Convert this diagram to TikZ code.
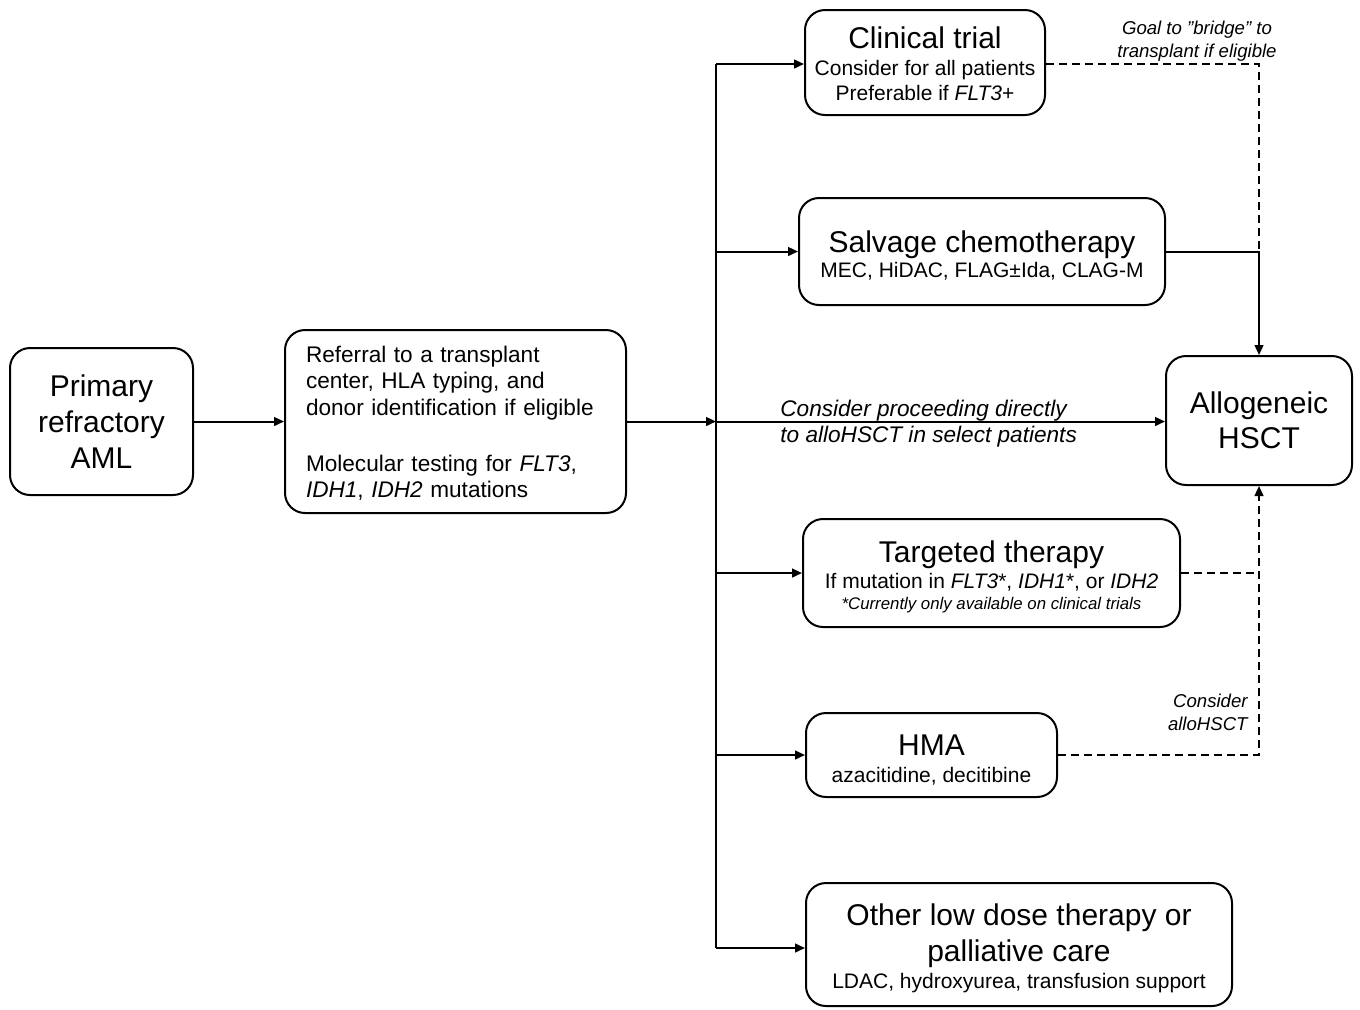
\documentclass[tikz,border=0pt]{standalone}
\usepackage{fontspec}
\setmainfont{Liberation Sans}
\usetikzlibrary{arrows.meta,calc}
\newcommand{\ftitle}{\fontsize{15}{18}\selectfont}
\newcommand{\fsub}{\fontsize{10.5}{12.5}\selectfont}
\newcommand{\ftiny}{\fontsize{8.4}{10}\selectfont\itshape}
\newcommand{\dstrut}[1]{\rule{0pt}{#1}}
\begin{document}
\begin{tikzpicture}[x=0.5pt,y=-0.5pt,
  box/.style={draw=black, line width=1pt, rounded corners=10pt, align=center, font=\ftitle, inner sep=0pt},
  arr/.style={line width=1pt, -{Triangle[length=5pt,width=4.4pt]}},
  ln/.style={line width=1pt},
  dsh/.style={line width=1pt, dash pattern=on 4pt off 2.5pt},
  dsharr/.style={dsh, -{Triangle[length=5pt,width=4.4pt]}},
  lbl/.style={font=\fontsize{11.3}{13}\selectfont\itshape, inner sep=0pt},
  slbl/.style={font=\fontsize{9.3}{11.5}\selectfont\itshape, inner sep=0pt}]
\useasboundingbox (0,0) rectangle (1360,1009);

\node[box, minimum width=91.5pt, minimum height=73.5pt] (A) at (101.5,421.5) {Primary\\refractory\\AML};
\node[box, minimum width=170.5pt, minimum height=91.5pt, text width=149.5pt, align=left, font=\fontsize{11.3}{13.25}\selectfont] (B) at (455.5,421.5) {\dstrut{9.7pt}Referral to a transplant\\center, HLA typing, and\\donor identification if eligible\\[14.75pt]Molecular testing for \textit{FLT3},\\\textit{IDH1}, \textit{IDH2} mutations};
\node[box, minimum width=120pt, minimum height=52.5pt] (C) at (925,62.5) {\dstrut{12pt}Clinical trial\\[-4.65pt]{\fsub Consider for all patients}\\[-5.5pt]{\fsub Preferable if \textit{FLT3}+}};
\node[box, minimum width=183pt, minimum height=53.5pt] (D) at (982,251.5) {\dstrut{15pt}Salvage chemotherapy\\[-5.65pt]{\fsub MEC, HiDAC, FLAG±Ida, CLAG-M}};
\node[box, minimum width=93pt, minimum height=64.5pt] (E) at (1259,420.5) {Allogeneic\\[-0.5pt]HSCT};
\node[box, minimum width=188.5pt, minimum height=54pt] (F) at (991.5,573) {\dstrut{15pt}Targeted therapy\\[-5.15pt]{\fsub If mutation in \textit{FLT3}*, \textit{IDH1}*, or \textit{IDH2}}\\[-7.2pt]{\ftiny *Currently only available on clinical trials}};
\node[box, minimum width=125.5pt, minimum height=42pt] (G) at (931.5,755) {\dstrut{15pt}HMA\\[-4.65pt]{\fsub azacitidine, decitibine}};
\node[box, minimum width=213pt, minimum height=61.5pt] (H) at (1019,944.5) {\dstrut{15pt}Other low dose therapy or\\palliative care\\[-4.65pt]{\fsub LDAC, hydroxyurea, transfusion support}};

\coordinate (T0) at (716,421.5);
\coordinate (Ttop) at (716,64);
\coordinate (Tbot) at (716,948);

\draw[arr] (A) -- (B);
\draw[arr] (B.east) -- (T0);
\draw[ln] (Ttop) -- (Tbot);
\draw[arr] (Ttop) -- (Ttop -| C.west);
\draw[arr] (Ttop |- D.west) -- (D.west);
\draw[arr] (T0) -- (T0 -| E.west);
\draw[arr] (Ttop |- F.west) -- (F.west);
\draw[arr] (Ttop |- G.west) -- (G.west);
\draw[arr] (Tbot) -- (Tbot -| H.west);

\node[lbl, anchor=west, align=left] (L1) at (780,423.5) {Consider proceeding directly\\to alloHSCT in select patients};

\draw[arr] (D.east) -- (D.east -| E.north) -- (E.north);
\draw[dsh] (C.east |- Ttop) -- (Ttop -| E.north) -- (D.east -| E.north);
\draw[dsh] (F.east) -- (F.east -| E.south);
\draw[dsharr] (G.east) -- (G.east -| E.south) -- (E.south);

\node[slbl, align=center] (L2) at (1197,41.5) {Goal to "bridge" to\\transplant if eligible};
\node[slbl, align=right, anchor=east] (L3) at (1248,712.5) {Consider\\alloHSCT};
\end{tikzpicture}
\end{document}
